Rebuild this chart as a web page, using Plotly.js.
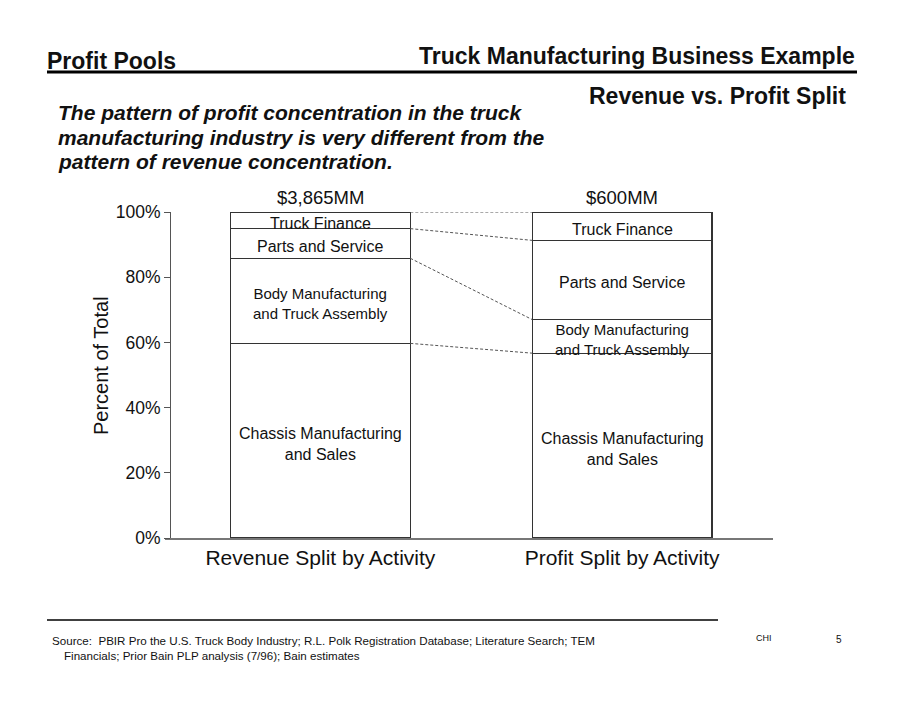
<!DOCTYPE html>
<html>
<head>
<meta charset="utf-8">
<script src="https://cdn.plot.ly/plotly-3.0.1.min.js"></script>
<style>
  html, body { margin: 0; padding: 0; background: #fff; }
  #chart { width: 920px; height: 711px; }
</style>
</head>
<body>
<div id="chart"></div>
<script>
// ---- Data ----
const barLabels = ["Revenue Split by Activity", "Profit Split by Activity"];
const barTotals = ["$3,865MM", "$600MM"];
const segmentNames = [
  "Chassis Manufacturing<br>and Sales",
  "Body Manufacturing<br>and Truck Assembly",
  "Parts and Service",
  "Truck Finance"
];
const revenueShare = [59.7, 26.1, 9.1, 5.1];   // % of total revenue
const profitShare  = [56.7, 10.3, 24.3, 8.7];  // % of total profit
const yTickVals = [0, 20, 40, 60, 80, 100];
const yTickText = ["0%", "20%", "40%", "60%", "80%", "100%"];
const yAxisTitle = "Percent of Total";

// ---- Styles ----
const FONT = "Liberation Sans, Arial, Helvetica, sans-serif";
const W = 920, H = 711;
const barWidth = 0.596;
const segFontSizes = [16, 15, 16, 16];
const px = x => x / W;
const py = y => 1 - y / H;

const xPos = [0, 1];
const series = [revenueShare, profitShare];
const traces = [];
segmentNames.forEach((name, i) => {
  traces.push({
    type: "bar",
    x: xPos,
    y: [revenueShare[i], profitShare[i]],
    width: barWidth,
    marker: { color: "#ffffff", line: { color: "#333", width: 1.3 } },
    hoverinfo: "skip",
    showlegend: false
  });
});

function cumulative(arr) { let s = 0; return arr.map(v => (s += v)); }
const cums = series.map(cumulative);

// dashed connectors between cumulative boundaries
for (let i = 0; i < segmentNames.length; i++) {
  traces.push({
    type: "scatter",
    mode: "lines",
    x: [xPos[0] + barWidth / 2, xPos[1] - barWidth / 2],
    y: [cums[0][i], cums[1][i]],
    line: { color: "#555", width: 1, dash: "3px,2px" },
    hoverinfo: "skip",
    showlegend: false
  });
}

const annotations = [];
// segment labels at the middle of each segment
series.forEach((vals, b) => {
  vals.forEach((v, i) => {
    annotations.push({
      x: xPos[b], y: cums[b][i] - v / 2, xref: "x", yref: "y",
      text: segmentNames[i], showarrow: false, yanchor: "middle", yshift: -3,
      font: { family: FONT, size: segFontSizes[i], color: "#111" }
    });
  });
});
barTotals.forEach((t, i) => {
  annotations.push({
    x: xPos[i], y: 100, xref: "x", yref: "y",
    text: t, showarrow: false, yanchor: "bottom", yshift: 2,
    font: { family: FONT, size: 18.5, color: "#111" }
  });
});

function pageText(text, x, y, xanchor, size, extra) {
  annotations.push(Object.assign({
    xref: "paper", yref: "paper", x: px(x), y: py(y),
    xanchor: xanchor, yanchor: "middle", showarrow: false, text: text,
    font: { family: FONT, size: size, color: "#111" }
  }, extra || {}));
}
pageText(yAxisTitle, 101, 366, "center", 20, { textangle: -90 });
pageText("<b>Profit Pools</b>", 45, 61, "left", 23);
pageText("<b>Truck Manufacturing Business Example</b>", 857, 56, "right", 23);
pageText("<b>Revenue vs. Profit Split</b>", 848, 96, "right", 23);
pageText("<b><i>The pattern of profit concentration in the truck</i></b>", 56, 112, "left", 21);
pageText("<b><i>manufacturing industry is very different from the</i></b>", 56, 137, "left", 21);
pageText("<b><i>pattern of revenue concentration.</i></b>", 56, 161, "left", 21);
pageText("Source:  PBIR Pro the U.S. Truck Body Industry; R.L. Polk Registration Database; Literature Search; TEM", 50, 640, "left", 11.6);
pageText("Financials; Prior Bain PLP analysis (7/96); Bain estimates", 62, 655, "left", 11.6);
pageText("CHI", 764, 638, "center", 9);
pageText("5", 839, 639, "center", 10);

const shapes = [
  { type: "line", xref: "paper", yref: "paper", x0: px(47), x1: px(857), y0: py(72), y1: py(72),
    line: { color: "#000", width: 3 } },
  { type: "line", xref: "paper", yref: "paper", x0: px(47), x1: px(718), y0: py(620), y1: py(620),
    line: { color: "#000", width: 1.5 } }
];

const layout = {
  width: W, height: H,
  margin: { l: 0, r: 0, t: 0, b: 0 },
  paper_bgcolor: "#fff", plot_bgcolor: "#fff",
  barmode: "stack",
  showlegend: false,
  font: { family: FONT, color: "#111" },
  xaxis: {
    domain: [px(165), px(773)],
    range: [-0.515, 1.5],
    tickvals: xPos, ticktext: barLabels,
    ticks: "", showgrid: false, zeroline: false,
    showline: true, linecolor: "#777", linewidth: 2,
    tickfont: { family: FONT, size: 21, color: "#111" },
    fixedrange: true
  },
  yaxis: {
    domain: [py(538), py(212)],
    range: [0, 100],
    anchor: "free", position: px(170),
    tickvals: yTickVals, ticktext: yTickText,
    ticks: "outside", ticklen: 6, tickcolor: "#555", tickwidth: 1,
    showgrid: false, zeroline: false,
    showline: true, linecolor: "#555", linewidth: 1,
    tickfont: { family: FONT, size: 17.5, color: "#111" },
    fixedrange: true
  },
  annotations: annotations,
  shapes: shapes
};

Plotly.newPlot("chart", traces, layout, { staticPlot: true, displayModeBar: false });
</script>
</body>
</html>
